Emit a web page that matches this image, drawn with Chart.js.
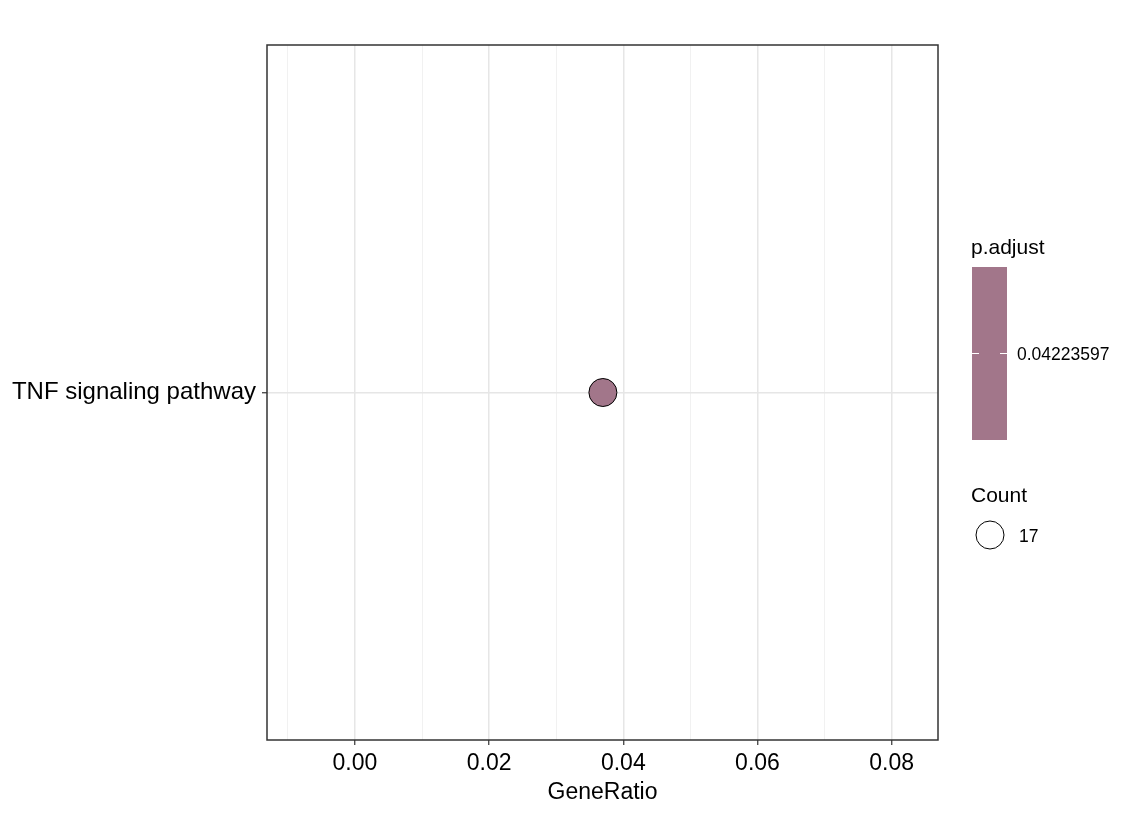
<!DOCTYPE html>
<html>
<head>
<meta charset="utf-8">
<script src="https://cdn.jsdelivr.net/npm/chart.js@4.4.1/dist/chart.umd.min.js"></script>
<style>
  html, body { margin: 0; padding: 0; background: #fff; }
  #wrap { width: 1134px; height: 813px; }
</style>
</head>
<body>
<div id="wrap"><canvas id="myChart" width="1134" height="813"></canvas></div>
<script>
const pathways = ['TNF signaling pathway'];
const geneRatio = [0.03696];
const counts = [17];
const pAdjust = [0.04223597];
const xTicks = [-0.01, 0.00, 0.01, 0.02, 0.03, 0.04, 0.05, 0.06, 0.07, 0.08];

const dotColor = '#A2768A';
const FONT = 'Liberation Sans, Arial, sans-serif';

function isMajor(v) {
    return Math.abs(Math.round(v * 100) % 2) === 0;
}

// legend on the right: p.adjust colour bar and Count size key
const sideLegend = {
    id: 'sideLegend',
    afterDraw(chart) {
        const c = chart.ctx;
        const a = chart.chartArea;
        c.save();
        // panel border
        c.strokeStyle = '#333333';
        c.lineWidth = 1.5;
        c.strokeRect(a.left, a.top, a.right - a.left, a.bottom - a.top);

        c.fillStyle = '#000';
        c.textBaseline = 'middle';
        c.textAlign = 'left';
        c.font = '21px ' + FONT;
        c.fillText('p.adjust', 971, 248);

        c.fillStyle = dotColor;
        c.fillRect(972, 267, 35, 173);
        c.strokeStyle = '#ffffff';
        c.lineWidth = 1;
        c.beginPath();
        c.moveTo(972, 353.5); c.lineTo(979, 353.5);
        c.moveTo(1000, 353.5); c.lineTo(1007, 353.5);
        c.stroke();

        c.fillStyle = '#000';
        c.font = '17.5px ' + FONT;
        c.fillText(String(pAdjust[0]), 1017, 355);

        c.font = '21px ' + FONT;
        c.fillText('Count', 971, 496);

        c.strokeStyle = '#000';
        c.lineWidth = 1;
        c.beginPath();
        c.arc(990, 535, 14, 0, Math.PI * 2);
        c.stroke();

        c.font = '17.5px ' + FONT;
        c.fillText(String(counts[0]), 1019, 537);
        c.restore();
    }
};

const ctx = document.getElementById('myChart').getContext('2d');

new Chart(ctx, {
    type: 'scatter',
    data: {
        labels: pathways,
        datasets: [{
            data: pathways.map((p, i) => ({ x: geneRatio[i], y: p, count: counts[i] })),
            pointRadius: 14,
            pointHoverRadius: 14,
            backgroundColor: dotColor,
            borderColor: '#000000',
            borderWidth: 1
        }]
    },
    options: {
        responsive: false,
        animation: false,
        layout: { padding: { top: 45, right: 196, left: 0, bottom: 0 } },
        scales: {
            x: {
                type: 'linear',
                min: -0.0131,
                max: 0.0869,
                afterBuildTicks: (axis) => {
                    axis.ticks = xTicks.map(v => ({ value: v }));
                },
                afterFit: (axis) => { axis.height = 73; },
                border: { display: false },
                grid: {
                    color: (c) => isMajor(c.tick.value) ? '#E6E6E6' : '#EDEDED',
                    lineWidth: (c) => isMajor(c.tick.value) ? 1.5 : 0.8,
                    tickColor: (c) => isMajor(c.tick.value) ? '#333333' : 'rgba(0,0,0,0)',
                    tickLength: 5,
                    tickWidth: 1.2
                },
                ticks: {
                    autoSkip: false,
                    maxRotation: 0,
                    padding: 5,
                    color: '#000',
                    font: { family: FONT, size: 23 },
                    callback: (v) => isMajor(v) ? v.toFixed(2) : ''
                },
                title: {
                    display: true,
                    text: 'GeneRatio',
                    color: '#000',
                    padding: { top: 0, bottom: 7 },
                    font: { family: FONT, size: 23 }
                }
            },
            y: {
                type: 'category',
                offset: true,
                afterFit: (axis) => { axis.width = 267; },
                border: { display: false },
                grid: {
                    offset: false,
                    color: '#E6E6E6',
                    lineWidth: 1.5,
                    tickColor: '#333333',
                    tickLength: 5,
                    tickWidth: 1.2
                },
                ticks: {
                    padding: 6,
                    color: '#000',
                    font: { family: FONT, size: 24 }
                }
            }
        },
        plugins: {
            legend: { display: false },
            tooltip: { enabled: false }
        }
    },
    plugins: [sideLegend]
});
</script>
</body>
</html>
